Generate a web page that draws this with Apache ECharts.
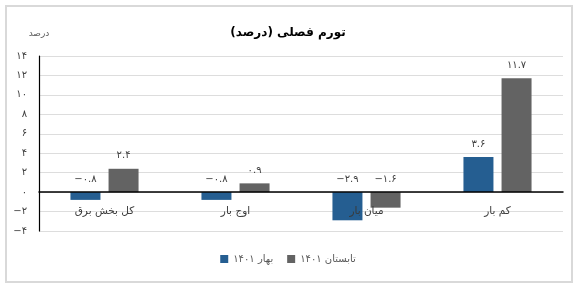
<!DOCTYPE html>
<html>
<head>
<meta charset="utf-8">
<script src="https://cdn.jsdelivr.net/npm/echarts@6/dist/echarts.min.js"></script>
<style>
  html, body { margin: 0; padding: 0; background: #fff; }
  #chart { width: 576px; height: 286px; }
</style>
</head>
<body>
<div id="chart"></div>
<script>
  // داده‌ها
  var categories = ['کل بخش برق', 'اوج بار', 'میان بار', 'کم بار'];
  var spring1401 = [-0.8, -0.8, -2.9, 3.6];
  var summer1401 = [2.4, 0.9, -1.6, 11.7];
  var seriesNames = ['بهار ۱۴۰۱', 'تابستان ۱۴۰۱'];

  var FONT = 'DejaVu Sans';

  // عدد به رقم فارسی
  function fa(v) {
    var s = String(v);
    var out = '';
    for (var i = 0; i < s.length; i++) {
      var c = s[i];
      if (c >= '0' && c <= '9') out += String.fromCharCode(0x06F0 + (+c));
      else if (c === '-') out += '\u2212';
      else out += c;
    }
    return out;
  }

  var myChart = echarts.init(document.getElementById('chart'));
  var option = {
    backgroundColor: '#fff',
    animation: false,
    title: {
      text: 'تورم فصلی (درصد)',
      left: 'center',
      top: 22,
      textStyle: { fontFamily: FONT, fontSize: 12, fontWeight: 'bold', color: '#000' }
    },
    graphic: [{
      type: 'rect',
      shape: { x: 6, y: 6, width: 566, height: 276 },
      style: { fill: 'none', stroke: '#D9D9D9', lineWidth: 2 },
      silent: true
    }],
    legend: {
      data: seriesNames,
      top: 249,
      left: 'center',
      itemWidth: 8,
      itemHeight: 8,
      itemGap: 14,
      icon: 'rect',
      textStyle: { fontFamily: FONT, fontSize: 10, color: '#595959' }
    },
    grid: {
      left: 39,
      right: 13,
      top: 56,
      bottom: 55,
      containLabel: false
    },
    xAxis: {
      type: 'category',
      data: categories,
      zlevel: 1,
      axisTick: { show: false },
      axisLine: { show: true, onZero: true, lineStyle: { color: '#000', width: 1.5 } },
      // برچسب‌ها کنار خط صفر
      axisLabel: { fontFamily: FONT, fontSize: 10.5, color: '#3A3A3A', margin: -25 },
      splitLine: { show: false }
    },
    yAxis: {
      type: 'value',
      min: -4,
      max: 14,
      interval: 2,
      name: 'درصد',
      nameLocation: 'end',
      nameGap: 18,
      nameTextStyle: { fontFamily: FONT, fontSize: 9, color: '#595959' },
      axisTick: { show: false },
      axisLine: { show: true, lineStyle: { color: '#000', width: 1.2 } },
      axisLabel: {
        fontFamily: FONT, fontSize: 10, color: '#404040', margin: 12,
        formatter: function (v) { return fa(v); }
      },
      splitLine: { show: true, lineStyle: { color: '#DDDDDD', width: 1 } }
    },
    series: [
      {
        name: seriesNames[0],
        type: 'bar',
        data: spring1401,
        barWidth: 30,
        barGap: '27%',
        itemStyle: { color: '#255E91' },
        label: {
          show: true,
          position: 'top',
          distance: 8,
          fontFamily: FONT, fontSize: 10, color: '#404040',
          formatter: function (p) { return fa(p.value); }
        }
      },
      {
        name: seriesNames[1],
        type: 'bar',
        data: summer1401,
        barWidth: 30,
        itemStyle: { color: '#636363' },
        label: {
          show: true,
          position: 'top',
          distance: 8,
          fontFamily: FONT, fontSize: 10, color: '#404040',
          formatter: function (p) { return fa(p.value); }
        }
      }
    ]
  };
  myChart.setOption(option);
</script>
</body>
</html>
